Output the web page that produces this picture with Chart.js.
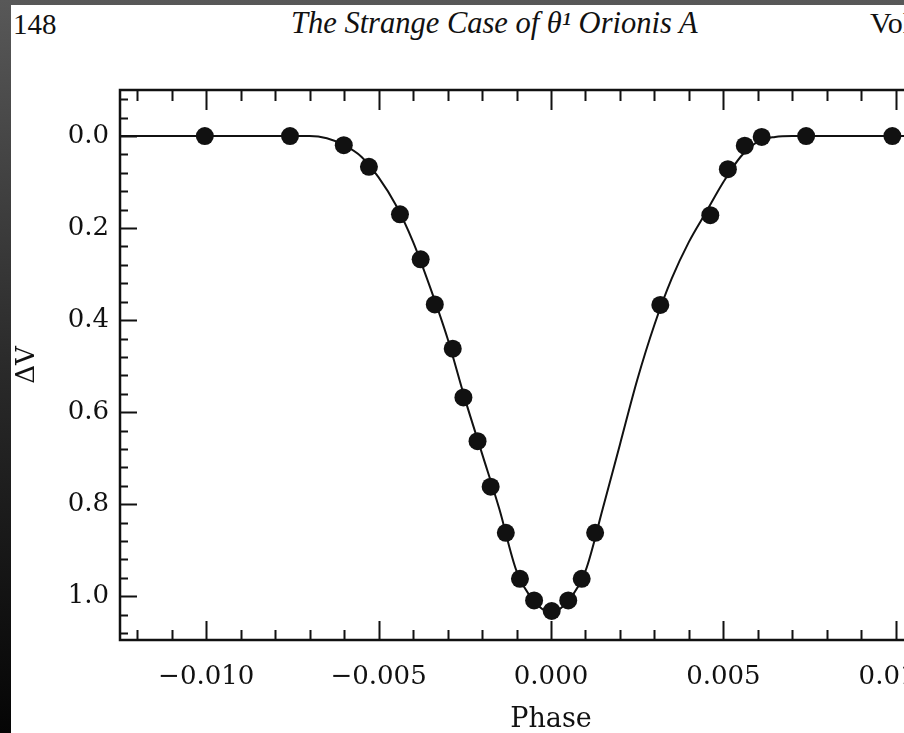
<!DOCTYPE html>
<html>
<head>
<meta charset="utf-8">
<script src="https://cdn.jsdelivr.net/npm/chart.js@4.4.1/dist/chart.umd.min.js"></script>
<style>
  html, body { margin: 0; padding: 0; width: 904px; height: 733px; overflow: hidden; background: #000; }
  #bg { position: absolute; left: 0; top: 0; width: 904px; height: 733px;
        background: linear-gradient(to bottom, #585858 0%, #2a2a2a 50%, #050505 100%); }
  #page { position: absolute; left: 11px; top: 5px; width: 1000px; height: 740px; background: #fff; }
  #wrap { position: absolute; left: 0; top: 0; width: 1000px; height: 733px; }
  .hdr { position: absolute; font-family: "Liberation Serif", "DejaVu Serif", serif; color: #111; white-space: nowrap; }
</style>
</head>
<body>
<div id="bg"></div>
<div id="page"></div>
<div class="hdr" style="left:13px; top:8px; font-size:29px;">148</div>
<div class="hdr" style="left:291px; top:6px; font-size:30.5px; font-style:italic;">The Strange Case of θ¹ Orionis A</div>
<div class="hdr" style="left:870px; top:6px; font-size:30px;">Vol.</div>
<div id="wrap"><canvas id="c" width="1000" height="733"></canvas></div>
<script>
// ---- data ----
const pointPhase = [-0.01004, -0.00757, -0.00601, -0.00528, -0.00438, -0.00378, -0.00337, -0.00285,
                    -0.00254, -0.00213, -0.00175, -0.00131, -0.00090, -0.00049, 0.00002, 0.00050,
                     0.00089, 0.00128, 0.00317, 0.00462, 0.00513, 0.00562, 0.00611, 0.00740, 0.00990];
const pointDV    = [0.000, 0.000, 0.020, 0.067, 0.170, 0.268, 0.366, 0.462,
                    0.568, 0.663, 0.762, 0.862, 0.962, 1.009, 1.032, 1.009,
                    0.962, 0.862, 0.367, 0.172, 0.072, 0.021, 0.002, 0.000, 0.000];

const curvePhase = [-0.0125, -0.0070, -0.0065, -0.0060, -0.0055, -0.0050, -0.0045, -0.0040, -0.0035,
                    -0.0030, -0.0025, -0.0020, -0.0015, -0.0010, -0.0005, 0.0000, 0.0005, 0.0010,
                     0.0015, 0.0020, 0.0025, 0.0030, 0.0035, 0.0040, 0.0045, 0.0050, 0.0055,
                     0.0060, 0.0065, 0.0070, 0.0125];
const curveDV    = [0.000, 0.000, 0.005, 0.020, 0.045, 0.090, 0.150, 0.230, 0.330,
                    0.440, 0.570, 0.690, 0.810, 0.945, 1.010, 1.035, 1.010, 0.945,
                    0.810, 0.670, 0.530, 0.410, 0.310, 0.230, 0.165, 0.100, 0.045,
                    0.012, 0.002, 0.000, 0.000];

const xTickValues = [-0.010, -0.005, 0.000, 0.005, 0.010];
const xTickLabels = ['\u22120.010', '\u22120.005', '0.000', '0.005', '0.010'];
const yTickValues = [0.0, 0.2, 0.4, 0.6, 0.8, 1.0];
const yTickLabels = ['0.0', '0.2', '0.4', '0.6', '0.8', '1.0'];

const xTitle = 'Phase';
const yTitle = '\u0394V';

// ---- styling ----
const INK = '#111';
const tickFont = { family: '"DejaVu Serif", "Liberation Serif", serif', size: 26 };

const framePlugin = {
  id: 'frameTicks',
  beforeDatasetsDraw(chart) {
    const { ctx, chartArea: a, scales: { x, y } } = chart;
    ctx.save();
    ctx.strokeStyle = INK;
    ctx.lineWidth = 2.5;
    ctx.beginPath();
    ctx.moveTo(a.right, a.top); ctx.lineTo(a.left, a.top);
    ctx.lineTo(a.left, a.bottom); ctx.lineTo(a.right, a.bottom);
    ctx.stroke();
    ctx.lineWidth = 2;
    ctx.beginPath();
    for (let i = -12; i <= 12; i++) {
      const px = Math.round(x.getPixelForValue(i * 0.001)) + 0.5;
      const major = i % 5 === 0;
      ctx.moveTo(px, a.bottom); ctx.lineTo(px, a.bottom - (major ? 19 : 10));
      ctx.moveTo(px, a.top); ctx.lineTo(px, a.top + (major ? 20 : 11));
    }
    for (let j = -2; j <= 27; j++) {
      const v = j * 0.04;
      if (v > 1.095) break;
      const py = Math.round(y.getPixelForValue(v)) + 0.5;
      const major = j % 5 === 0;
      ctx.moveTo(a.left, py); ctx.lineTo(a.left + (major ? 17 : 8), py);
    }
    ctx.stroke();
    ctx.restore();
  }
};

new Chart(document.getElementById('c'), {
  type: 'scatter',
  data: {
    datasets: [
      {
        label: 'model',
        data: curvePhase.map((p, i) => ({ x: p, y: curveDV[i] })),
        showLine: true,
        borderColor: INK,
        borderWidth: 2,
        pointRadius: 0,
        cubicInterpolationMode: 'monotone',
        order: 2
      },
      {
        label: 'observed',
        data: pointPhase.map((p, i) => ({ x: p, y: pointDV[i] })),
        showLine: false,
        pointRadius: 9,
        pointBackgroundColor: INK,
        pointBorderColor: INK,
        pointBorderWidth: 0,
        order: 1
      }
    ]
  },
  options: {
    responsive: false,
    animation: false,
    devicePixelRatio: 1,
    layout: { padding: { left: 0, top: 90, right: 18, bottom: 0 } },
    plugins: { legend: { display: false }, tooltip: { enabled: false } },
    scales: {
      x: {
        type: 'linear',
        min: -0.0125, max: 0.0125,
        grid: { display: false, drawTicks: false },
        border: { display: false },
        afterFit: s => { s.height = 93; },
        afterBuildTicks: s => { s.ticks = xTickValues.map(v => ({ value: v })); },
        ticks: {
          color: INK, font: tickFont, padding: 22, maxRotation: 0, autoSkip: false,
          callback: v => { const k = xTickValues.findIndex(t => Math.abs(t - v) < 1e-9); return k >= 0 ? xTickLabels[k] : ''; }
        },
        title: { display: true, text: xTitle, color: INK,
                 font: { family: '"DejaVu Serif", "Liberation Serif", serif', size: 27, lineHeight: 1 },
                 padding: { top: 0, bottom: 0 } }
      },
      y: {
        type: 'linear',
        reverse: true,
        min: -0.1, max: 1.095,
        grid: { display: false, drawTicks: false },
        border: { display: false },
        afterFit: s => { s.width = 120; },
        afterBuildTicks: s => { s.ticks = yTickValues.map(v => ({ value: v })); },
        ticks: {
          color: INK, font: tickFont, padding: 11, autoSkip: false,
          callback: v => { const k = yTickValues.findIndex(t => Math.abs(t - v) < 1e-9); return k >= 0 ? yTickLabels[k] : ''; }
        },
        title: { display: true, text: yTitle, color: INK,
                 font: { family: '"DejaVu Serif", "Liberation Serif", serif', size: 26, lineHeight: 1 },
                 padding: { top: 14, bottom: 0 } }
      }
    }
  },
  plugins: [framePlugin]
});
</script>
</body>
</html>
